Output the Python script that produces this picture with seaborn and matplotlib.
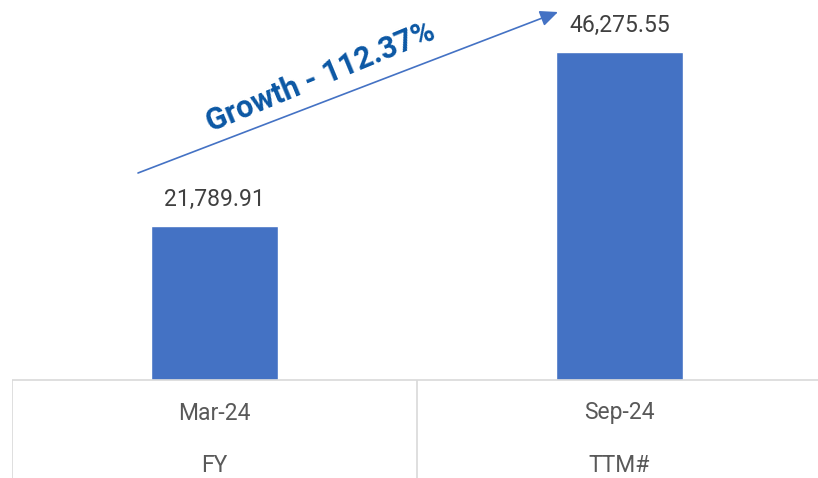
import matplotlib
matplotlib.use("Agg")
import matplotlib.pyplot as plt
import seaborn as sns
import pandas as pd

periods = ["Mar-24", "Sep-24"]
period_types = ["FY", "TTM#"]
values = [21789.91, 46275.55]
growth_label = "Growth - 112.37%"

df = pd.DataFrame({"period": periods, "value": values})

sns.set_theme(style="white")
plt.rcParams["font.family"] = ["Roboto", "DejaVu Sans"]

W, H = 818, 478
fig = plt.figure(figsize=(W / 100, H / 100), dpi=100)
ax = fig.add_axes([12 / W, 0, 1 - 12 / W, 1])

base_px = 380
scale = 328 / values[1]  # px per unit
ytop = base_px / scale
ybot = -(H - base_px) / scale

sns.barplot(data=df, x="period", y="value", color="#4472C4", width=0.314,
            saturation=1, ax=ax)

ax.set_xlim(-0.5, 1.5 - 4 / 405)
ax.set_ylim(ybot, ytop)
ax.axis("off")

# value labels
for i, v in enumerate(values):
    ax.annotate(f"{v:,.2f}", (i, v), xytext=(0, 19), textcoords="offset points",
                ha="center", va="center", fontsize=16.5, color="#404040")

# table
grid = "#d9d9d9"
ax.axhline(0, color=grid, lw=1.2, xmin=0, xmax=1)
ax.vlines([-0.5, 0.5], ybot, 0, color=grid, lw=1.2)
for i, (p, t) in enumerate(zip(periods, period_types)):
    ax.text(i, -33 / scale, p, ha="center", va="center", fontsize=16.5, color="#595959")
    ax.text(i, -86 / scale, t, ha="center", va="center", fontsize=16.5, color="#595959")

# growth arrow
def px2data(px, py):
    return ((px - 12) / 405 - 0.5, (base_px - py) / scale)

ax.annotate("", xy=px2data(558, 12), xytext=px2data(138, 173),
            arrowprops=dict(arrowstyle="-|>,head_length=0.9,head_width=0.4",
                            color="#4472C4", lw=1.2, shrinkA=0, shrinkB=0))
tx, ty = px2data(321, 77)
ax.text(tx, ty, growth_label, rotation=22.5, ha="center", va="center",
        rotation_mode="anchor", fontsize=22, fontweight="bold", color="#0B57A4")

fig.savefig("out.png", dpi=100)
